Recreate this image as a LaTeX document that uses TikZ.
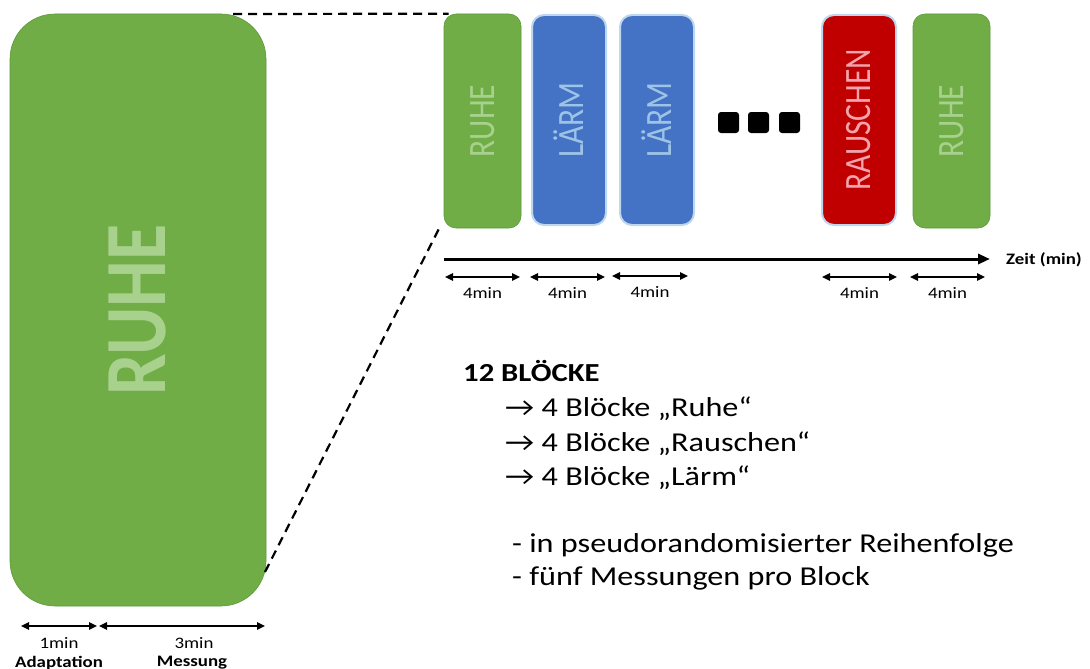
\documentclass[tikz,border=0pt]{standalone}
\usepackage{fontspec}
\setmainfont{Carlito}[FakeStretch=1.18]
\newfontfamily\plainfont{Carlito}
\usepackage{graphicx}
\usetikzlibrary{arrows.meta}

\definecolor{ruhegreen}{HTML}{70AD47}
\definecolor{ruheedge}{HTML}{5E9A3A}
\definecolor{ruhetext}{HTML}{A9D18E}
\definecolor{laermblue}{HTML}{4472C4}
\definecolor{laermtext}{HTML}{9DC3E6}
\definecolor{blockedge}{HTML}{BDD7EE}
\definecolor{rauschred}{HTML}{C00000}
\definecolor{rauschtext}{HTML}{F2A3AC}

\tikzset{
  block/.style={rectangle, rounded corners=12pt, inner sep=0pt, minimum width=77pt, minimum height=214pt, font=\plainfont\fontsize{31.5}{31.5}\selectfont},
  ruheblock/.style={block, fill=ruhegreen, draw=ruheedge, line width=0.6pt, text=ruhetext},
  laermblock/.style={block, fill=laermblue, draw=blockedge, line width=2pt, minimum width=74pt, minimum height=210pt, text=laermtext},
  rauschblock/.style={laermblock, fill=rauschred, text=rauschtext},
  dotbox/.style={rectangle, rounded corners=3pt, fill=black, minimum size=21pt, inner sep=0pt},
  zoomline/.style={line width=2.2pt, dash pattern=on 9pt off 6pt},
  dimarrow/.style={{Triangle[length=8pt,width=7.5pt]}-{Triangle[length=8pt,width=7.5pt]}, line width=1.3pt},
  dimlabel/.style={font=\fontsize{16}{16}\selectfont, inner sep=0pt},
  listtext/.style={anchor=base west, inner sep=0pt, font=\fontsize{27.3}{27.3}\selectfont},
}

\newcommand{\uptext}[1]{\rotatebox{90}{\scalebox{1}[1.18]{#1}}}

\begin{document}
\begin{tikzpicture}[x=1pt, y=-1pt]
  \useasboundingbox (0,0) rectangle (1090,669);

  % large block
  \node[ruheblock, rounded corners=45pt, minimum width=256pt, minimum height=592pt, font=\plainfont\bfseries\fontsize{74}{74}\selectfont] (ruhebig) at (138,310) {\uptext{RUHE}};

  % row of blocks
  \node[ruheblock] (r1) at (482.5,121) {\uptext{RUHE}};
  \node[laermblock] (l1) at (569,120) {\uptext{LÄRM}};
  \node[laermblock] (l2) at (657,120) {\uptext{LÄRM}};
  \foreach \x/\n in {728.5/1, 758.5/2, 789.5/3}
    \node[dotbox] (dot\n) at (\x,122.5) {};
  \node[rauschblock] (ra1) at (859,120) {\uptext{RAUSCHEN}};
  \node[ruheblock] (r2) at (951.5,121) {\uptext{RUHE}};

  % zoom lines
  \coordinate (zoomtop) at (233,14);
  \coordinate (zoombot) at (265,572);
  \draw[zoomline] (zoomtop) -- ([xshift=5pt]r1.north west);
  \draw[zoomline] (zoombot) -- ([xshift=-3pt,yshift=3pt]r1.south west);

  % time axis
  \coordinate (t0) at (444,259);
  \coordinate (t1) at (990,259);
  \draw[-{Triangle[length=12pt,width=10pt]}, line width=3pt] (t0) -- (t1);
  \node[anchor=west, inner sep=0pt, font=\bfseries\fontsize{16}{16}\selectfont] (zeit) at (1006,260) {Zeit (min)};

  \foreach \a/\b/\y/\n in {445/520/277/1, 530/605/277/2, 612/688/276/3, 822/897/277/4, 910/985/277/5} {
    \coordinate (s\n) at (\a,\y);
    \coordinate (e\n) at (\b,\y);
    \draw[dimarrow] (s\n) -- (e\n) node[dimlabel, midway, yshift=-16pt] (m\n) {4min};
  }

  % phases of one block
  \coordinate (p0) at (21,626);
  \coordinate (p1) at (97,626);
  \coordinate (p2) at (99,626);
  \coordinate (p3) at (265,626);
  \draw[dimarrow] (p0) -- (p1) node[dimlabel, midway, yshift=-17pt] (min1) {1min};
  \draw[dimarrow] (p2) -- (p3) node[dimlabel, midway, xshift=12pt, yshift=-17pt] (min3) {3min};
  \node[dimlabel, font=\bfseries\fontsize{16}{16}\selectfont] (adapt) at (59,663) {Adaptation};
  \node[dimlabel, font=\bfseries\fontsize{16}{16}\selectfont] (mess) at (192,663) {Messung};

  % legend text
  \node[listtext, font=\bfseries\fontsize{26}{26}\selectfont] (titel) at (463,381) {12 BLÖCKE};
  \node[listtext] (zeile1) at (505,416) {→ 4 Blöcke „Ruhe“};
  \node[listtext] (zeile2) at (505,451) {→ 4 Blöcke „Rauschen“};
  \node[listtext] (zeile3) at (505,485) {→ 4 Blöcke „Lärm“};
  \node[listtext] (zeile4) at (512,552) {- in pseudorandomisierter Reihenfolge};
  \node[listtext] (zeile5) at (512,585) {- fünf Messungen pro Block};
\end{tikzpicture}
\end{document}
